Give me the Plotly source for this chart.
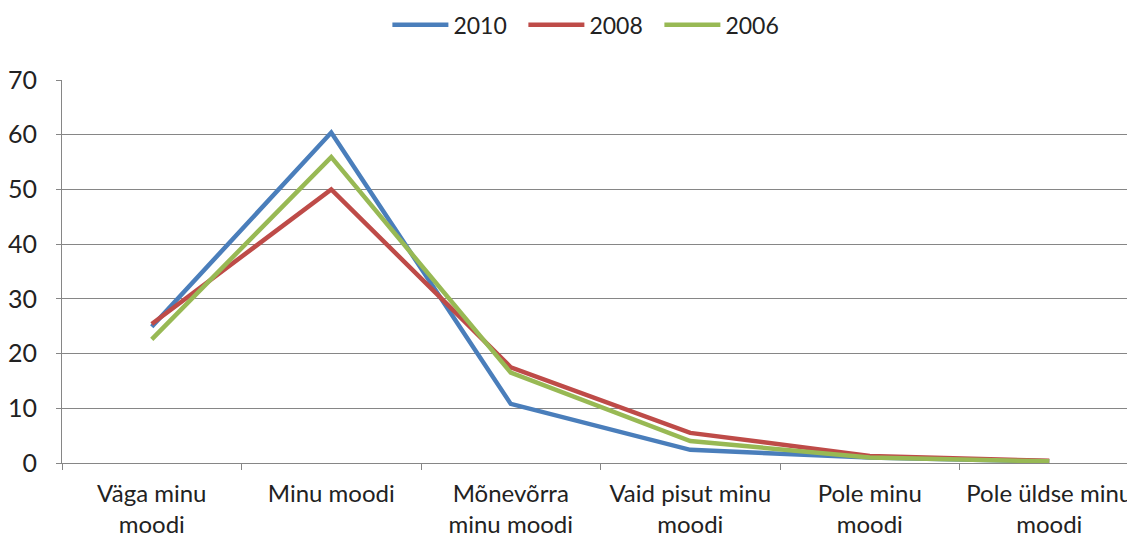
import plotly.graph_objects as go

categories = ["Väga minu<br>moodi", "Minu moodi", "Mõnevõrra<br>minu moodi",
              "Vaid pisut minu<br>moodi", "Pole minu<br>moodi", "Pole üldse minu<br>moodi"]
s2010 = [24.9, 60.4, 10.8, 2.4, 1.0, 0.3]
s2008 = [25.4, 50.0, 17.5, 5.5, 1.3, 0.4]
s2006 = [22.6, 55.9, 16.5, 4.0, 1.0, 0.3]
series = [("2010", s2010, "#4A7EBB"), ("2008", s2008, "#BE4B48"), ("2006", s2006, "#98B954")]
yticks = [0, 10, 20, 30, 40, 50, 60, 70]

fig = go.Figure()
for name, vals, col in series:
    fig.add_trace(go.Scatter(x=categories, y=vals, name=name, mode="lines",
                             line=dict(color=col, width=4.5)))

fam = "Lato, Open Sans, sans-serif"
font = dict(family=fam, size=25, color="#222222")
xfont = dict(family=fam, size=24, color="#222222")
fig.update_layout(
    width=1135, height=541,
    margin=dict(l=54, r=4, t=72, b=86, autoexpand=False),
    paper_bgcolor="white", plot_bgcolor="white",
    font=font,
    showlegend=True,
    legend=dict(orientation="h", x=0.514, xref="container", xanchor="center",
                y=0.969, yref="container", yanchor="middle",
                font=dict(family=fam, size=23, color="#222222"),
                itemwidth=56, entrywidth=65, traceorder="normal"),
    xaxis=dict(type="category", range=[-0.5, 5.5], showgrid=False,
               showline=True, linecolor="#868686", linewidth=1,
               ticks="outside", tickson="boundaries", ticklen=6, tickcolor="#868686",
               tickfont=xfont, ticklabelstandoff=9, tickangle=0, automargin=False),
    yaxis=dict(range=[0, 70], tickvals=yticks, showgrid=True, gridcolor="#868686",
               gridwidth=1, showline=True, linecolor="#868686", linewidth=1,
               ticks="outside", ticklen=5, tickcolor="#868686", tickfont=font,
               ticklabelstandoff=14, zeroline=False, automargin=False),
)
fig.write_html("out.html")
